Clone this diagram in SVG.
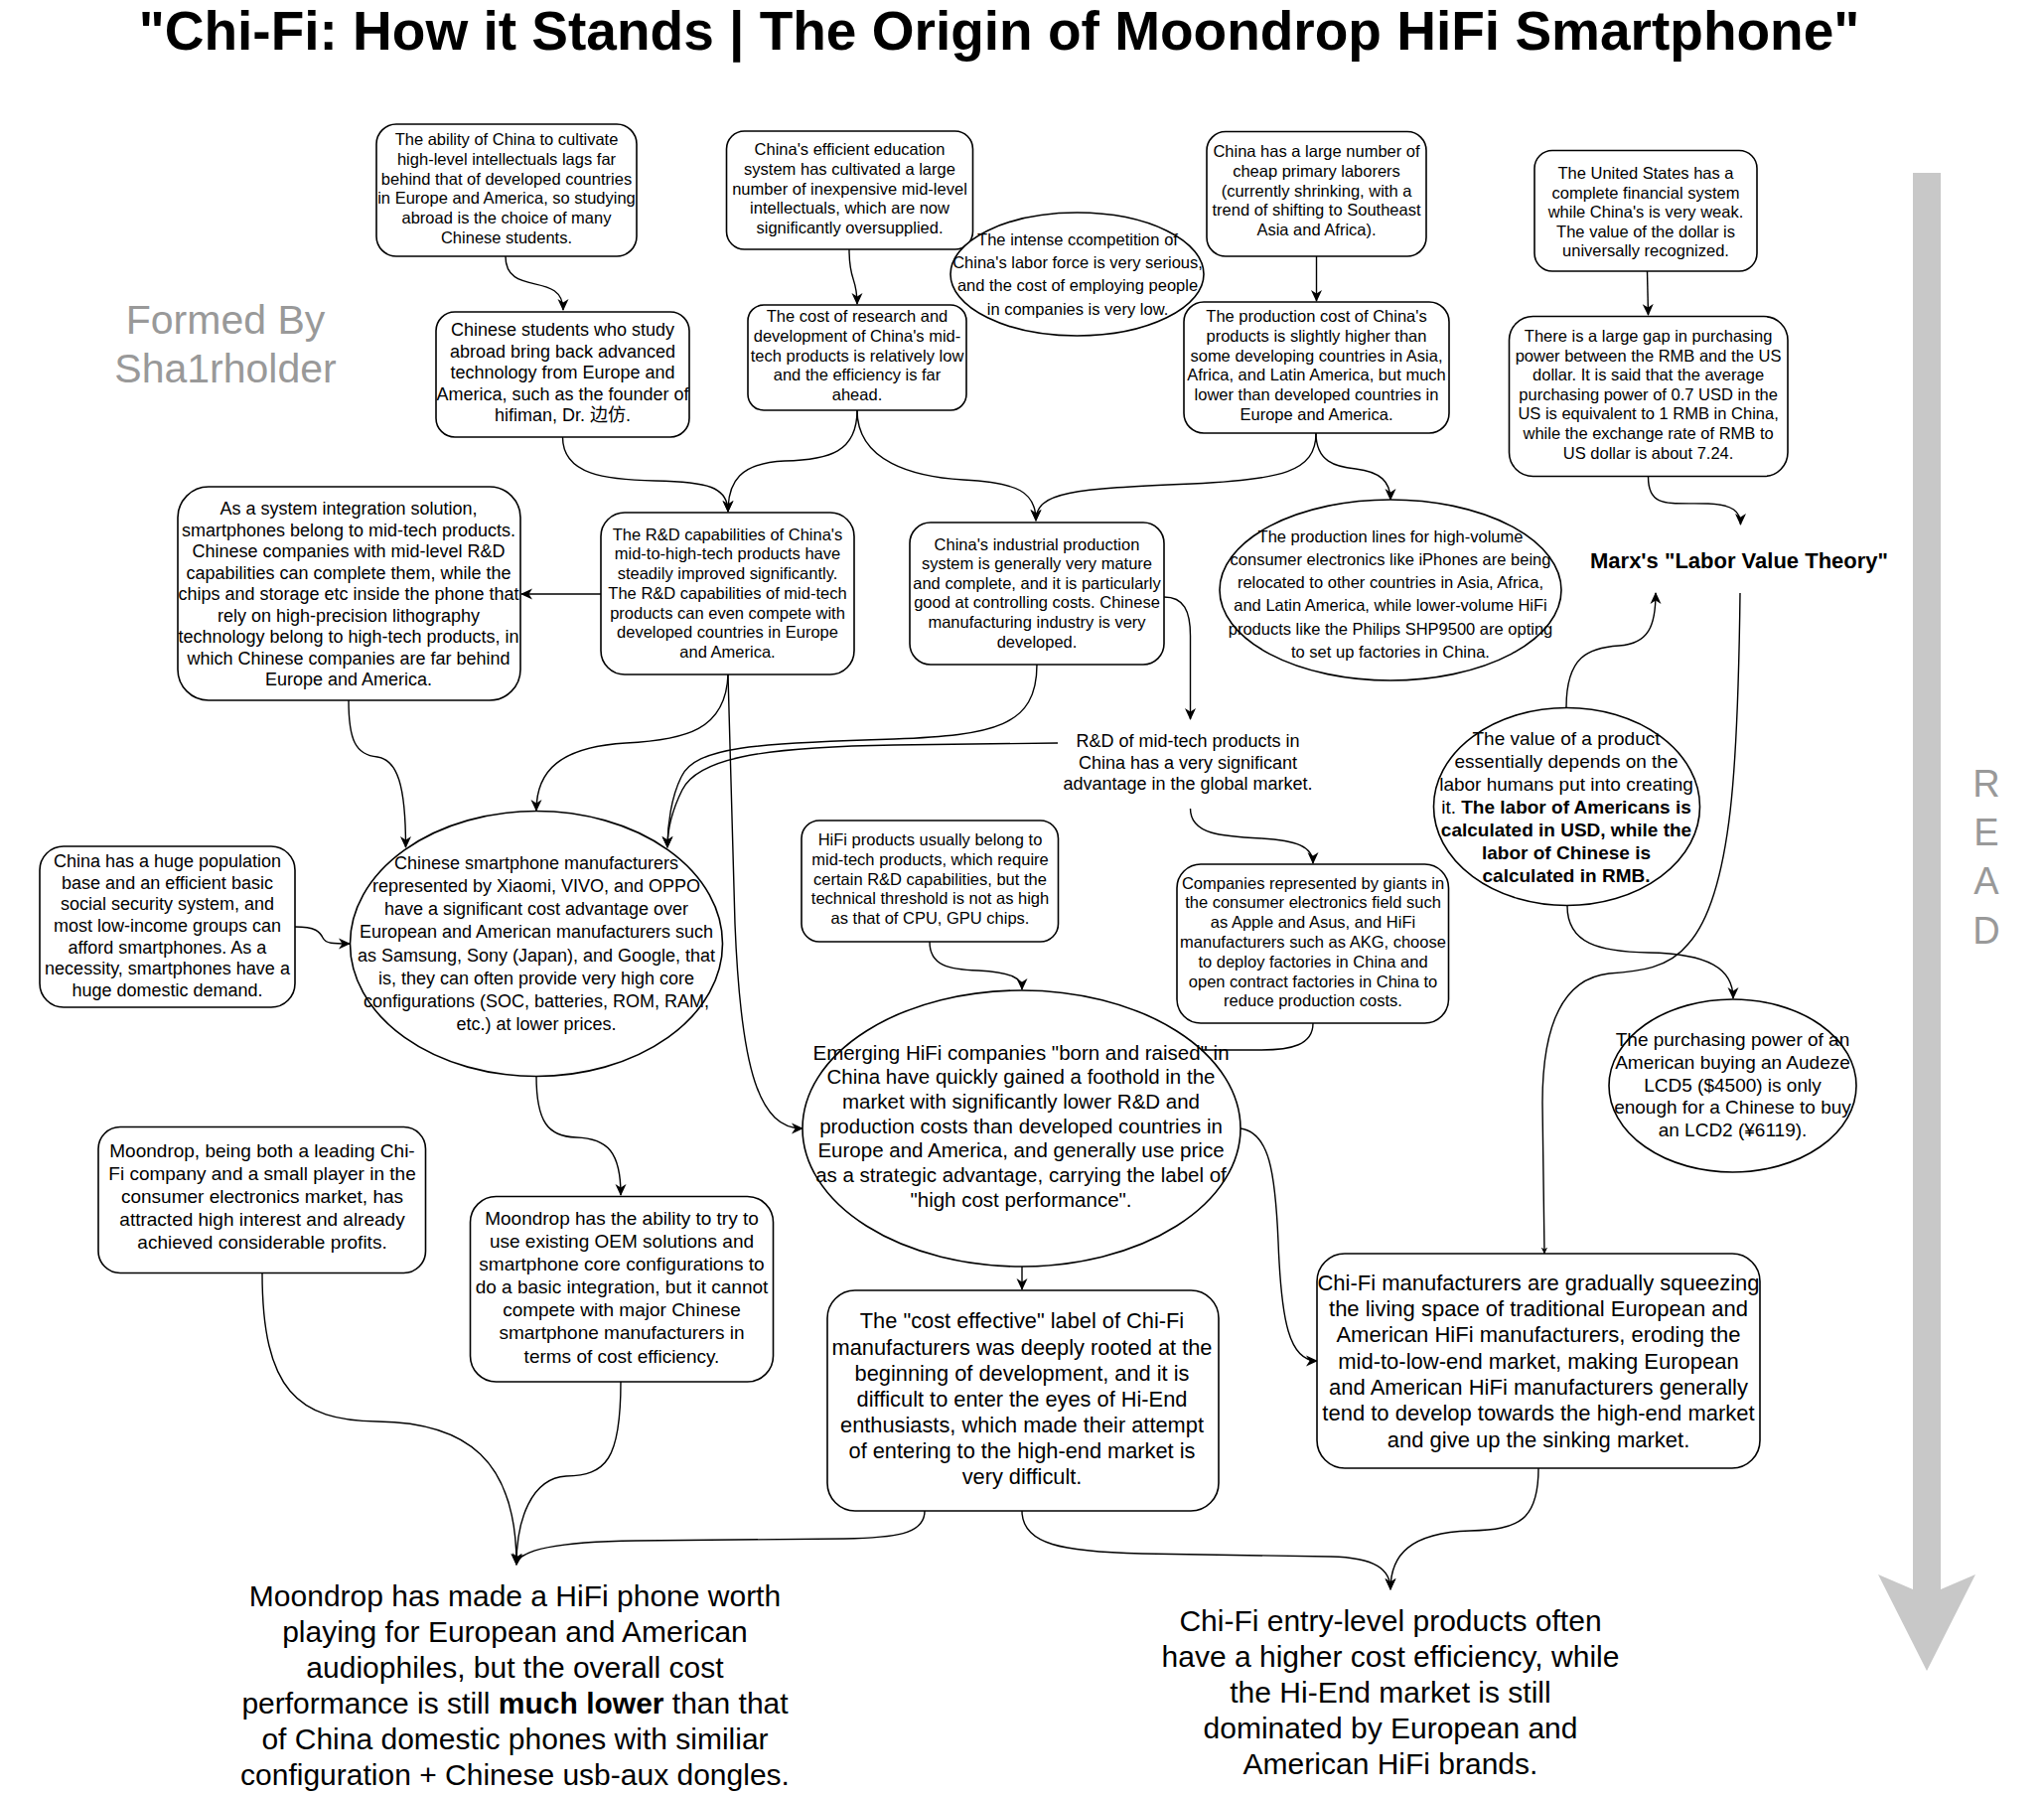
<svg xmlns="http://www.w3.org/2000/svg" width="2058" height="1807" viewBox="0 0 2058 1807">
<style>
.box{fill:#fff;stroke:#000;stroke-width:1.6}
.t{font-family:"Liberation Sans",Arial,"Noto Sans CJK SC",sans-serif;fill:#000;text-anchor:middle}
.s165{font-size:16.5px}
.s18{font-size:18px}
.s19{font-size:19px}
.s205{font-size:20.5px}
.s22{font-size:21.8px}
.s30{font-size:30px}
.c path{fill:none;stroke:#000;stroke-width:1.4}
.gray{fill:#999;font-family:"Liberation Sans",Arial,sans-serif;text-anchor:middle}
</style>
<defs>
<marker id="ah" viewBox="0 0 12 12" refX="11" refY="6" markerWidth="12" markerHeight="12" markerUnits="userSpaceOnUse" orient="auto">
<path d="M0,0.5 L12,6 L0,11.5 L3.5,6 z" fill="#000"/>
</marker>
<marker id="ahs" viewBox="0 0 12 12" refX="11" refY="6" markerWidth="7" markerHeight="7" markerUnits="userSpaceOnUse" orient="auto">
<path d="M0,0.5 L12,6 L0,11.5 L3.5,6 z" fill="#000"/>
</marker>
</defs>
<rect width="2058" height="1807" fill="#fff"/>

<g id="title"><text class="t" x="1006" y="50" style="font-size:55px;font-weight:bold">"Chi-Fi: How it Stands | The Origin of Moondrop HiFi Smartphone"</text></g>

<g id="credit"><text class="gray" x="227" y="336" style="font-size:41px"><tspan x="227" y="336">Formed By</tspan><tspan x="227" y="385">Sha1rholder</tspan></text></g>

<g id="read-arrow">
<polygon points="1926,174 1954,174 1954,1600 1989,1585 1940,1682 1891,1585 1926,1600" fill="#c8c8c8"/>
<text class="gray" style="font-size:38px"><tspan x="2000" y="802">R</tspan><tspan x="2000" y="851">E</tspan><tspan x="2000" y="900">A</tspan><tspan x="2000" y="950">D</tspan></text>
</g>

<g id="connectors" class="c">
<path d="M509,258 C509,300 567,272 567,312" marker-end="url(#ah)"/>
<path d="M855,251 C855,285 863,278 863,306" marker-end="url(#ah)"/>
<path d="M1325.5,258 L1325.5,303" marker-end="url(#ah)"/>
<path d="M1658.5,273 L1659.5,317" marker-end="url(#ah)"/>
<path d="M566.5,440 C566.5,478 610,483 660,484 C712,485 733,490 733,515" marker-end="url(#ah)"/>
<path d="M863,413 C863,455 835,463 790,464 C745,466 733,485 733,515" marker-end="url(#ah)"/>
<path d="M863,413 C863,465 920,480 970,483 C1025,486 1043,495 1043,524" marker-end="url(#ah)"/>
<path d="M1325,436 C1325,475 1290,483 1200,487 C1080,492 1043,495 1043,524" marker-end="url(#ah)"/>
<path d="M1325,436 C1325,465 1345,470 1365,472 C1390,475 1400,485 1400,503" marker-end="url(#ah)"/>
<path d="M1659.5,480 C1659.5,512 1680,506 1720,507 C1745,508 1752.5,515 1752.5,528" marker-end="url(#ah)"/>
<path d="M605,598 L525,598" marker-end="url(#ah)"/>
<path d="M1172,601 C1192,601 1198.5,615 1198.5,640 L1198.5,724" marker-end="url(#ah)"/>
<path d="M1198.5,814 C1198.5,840 1230,842 1270,844 C1305,846 1322,852 1322,869" marker-end="url(#ah)"/>
<path d="M1322,1030 C1322,1052 1300,1057 1270,1057 L1210,1057"/>
<path d="M733,679 C731,735 690,745 630,748 C565,752 540,775 540,816" marker-end="url(#ah)"/>
<path d="M733,679 L740,930 C746,1080 765,1136 808,1136" marker-end="url(#ah)"/>
<path d="M1044,669 C1044,732 1000,740 900,744 C760,748 700,752 686,782 C676,802 672,830 672,853" marker-end="url(#ah)"/>
<path d="M1065,748 L900,750 C760,752 702,765 687,795 C677,815 672,835 672,853" marker-end="url(#ah)"/>
<path d="M351,705 C351,745 358,760 380,762 C400,765 408.5,790 408.5,853" marker-end="url(#ah)"/>
<path d="M297,933 C318,933 322,938 325,944 C328,950 335,950 352,950" marker-end="url(#ah)"/>
<path d="M540,1083 C540,1130 552,1144 580,1145 C612,1146 625,1160 625,1203" marker-end="url(#ah)"/>
<path d="M936,948 C936,972 955,976 985,977 C1018,979 1029,984 1029,996" marker-end="url(#ah)"/>
<path d="M1029,1275 L1029,1298" marker-end="url(#ah)"/>
<path d="M1249,1136 C1278,1140 1284,1180 1287,1250 C1290,1330 1298,1370 1326,1370" marker-end="url(#ah)"/>
<path d="M1752,597 C1750,760 1745,900 1700,950 C1680,975 1650,978 1620,980 C1575,985 1553,1030 1553,1110 L1555,1262" marker-end="url(#ahs)"/>
<path d="M1577,712 C1577,660 1600,652 1630,650 C1660,648 1667,630 1667,597" marker-end="url(#ah)"/>
<path d="M1578,912 C1578,950 1610,958 1660,959 C1720,960 1745,975 1745,1005" marker-end="url(#ah)"/>
<path d="M1029,1521 C1029,1555 1070,1562 1150,1564 L1340,1567 C1385,1568 1400,1580 1400,1600" marker-end="url(#ah)"/>
<path d="M1549,1478 C1549,1530 1530,1540 1480,1541 C1420,1543 1400,1565 1400,1600" marker-end="url(#ah)"/>
<path d="M931,1521 C931,1545 900,1548 850,1549 L640,1551 C560,1552 522,1560 520,1575" marker-end="url(#ah)"/>
<path d="M264,1281 C264,1400 300,1430 380,1431 C470,1432 520,1470 520,1575" marker-end="url(#ah)"/>
<path d="M625,1391 C625,1470 610,1485 570,1486 C535,1488 520,1530 520,1575" marker-end="url(#ah)"/>
</g>

<g id="n1"><rect class="box" x="379" y="125" width="262" height="133" rx="20"/>
<text class="t s165"><tspan x="510" y="146">The ability of China to cultivate</tspan><tspan x="510" y="165.8">high-level intellectuals lags far</tspan><tspan x="510" y="185.6">behind that of developed countries</tspan><tspan x="510" y="205.4">in Europe and America, so studying</tspan><tspan x="510" y="225.2">abroad is the choice of many</tspan><tspan x="510" y="245">Chinese students.</tspan></text></g>

<g id="n2"><rect class="box" x="439" y="314" width="255" height="126" rx="19"/>
<text class="t s18"><tspan x="566.5" y="338">Chinese students who study</tspan><tspan x="566.5" y="359.6">abroad bring back advanced</tspan><tspan x="566.5" y="381.2">technology from Europe and</tspan><tspan x="566.5" y="402.8">America, such as the founder of</tspan><tspan x="566.5" y="424.4">hifiman, Dr. 边仿.</tspan></text></g>

<g id="n3"><rect class="box" x="179" y="490" width="345" height="215" rx="31"/>
<text class="t s18"><tspan x="351" y="518">As a system integration solution,</tspan><tspan x="351" y="539.5">smartphones belong to mid-tech products.</tspan><tspan x="351" y="561">Chinese companies with mid-level R&amp;D</tspan><tspan x="351" y="582.5">capabilities can complete them, while the</tspan><tspan x="351" y="604">chips and storage etc inside the phone that</tspan><tspan x="351" y="625.5">rely on high-precision lithography</tspan><tspan x="351" y="647">technology belong to high-tech products, in</tspan><tspan x="351" y="668.5">which Chinese companies are far behind</tspan><tspan x="351" y="690">Europe and America.</tspan></text></g>

<g id="n4"><rect class="box" x="731.5" y="132" width="248" height="119" rx="18"/>
<text class="t s165"><tspan x="855.5" y="156">China's efficient education</tspan><tspan x="855.5" y="175.8">system has cultivated a large</tspan><tspan x="855.5" y="195.6">number of inexpensive mid-level</tspan><tspan x="855.5" y="215.4">intellectuals, which are now</tspan><tspan x="855.5" y="235.2">significantly oversupplied.</tspan></text></g>

<g id="intense"><ellipse class="box" cx="1084.5" cy="276" rx="127.5" ry="62"/>
<text class="t s165"><tspan x="1085" y="247">The intense ccompetition of</tspan><tspan x="1085" y="270.2">China's labor force is very serious,</tspan><tspan x="1085" y="293.4">and the cost of employing people</tspan><tspan x="1085" y="316.6">in companies is very low.</tspan></text></g>

<g id="n5"><rect class="box" x="753" y="307" width="220" height="106" rx="16"/>
<text class="t s165"><tspan x="863" y="324">The cost of research and</tspan><tspan x="863" y="343.8">development of China's mid-</tspan><tspan x="863" y="363.6">tech products is relatively low</tspan><tspan x="863" y="383.4">and the efficiency is far</tspan><tspan x="863" y="403.2">ahead.</tspan></text></g>

<g id="n6"><rect class="box" x="1215" y="132.5" width="221" height="125.5" rx="19"/>
<text class="t s165"><tspan x="1325.5" y="158">China has a large number of</tspan><tspan x="1325.5" y="177.8">cheap primary laborers</tspan><tspan x="1325.5" y="197.6">(currently shrinking, with a</tspan><tspan x="1325.5" y="217.4">trend of shifting to Southeast</tspan><tspan x="1325.5" y="237.2">Asia and Africa).</tspan></text></g>

<g id="n7"><rect class="box" x="1192" y="304" width="267" height="132" rx="20"/>
<text class="t s165"><tspan x="1325.5" y="324">The production cost of China's</tspan><tspan x="1325.5" y="343.8">products is slightly higher than</tspan><tspan x="1325.5" y="363.6">some developing countries in Asia,</tspan><tspan x="1325.5" y="383.4">Africa, and Latin America, but much</tspan><tspan x="1325.5" y="403.2">lower than developed countries in</tspan><tspan x="1325.5" y="423">Europe and America.</tspan></text></g>

<g id="n8"><rect class="box" x="1545" y="151.5" width="224" height="121.5" rx="18"/>
<text class="t s165"><tspan x="1657" y="180">The United States has a</tspan><tspan x="1657" y="199.5">complete financial system</tspan><tspan x="1657" y="219">while China's is very weak.</tspan><tspan x="1657" y="238.5">The value of the dollar is</tspan><tspan x="1657" y="258">universally recognized.</tspan></text></g>

<g id="n9"><rect class="box" x="1519.5" y="318.5" width="280.5" height="161" rx="24"/>
<text class="t s165"><tspan x="1659.6" y="344">There is a large gap in purchasing</tspan><tspan x="1659.6" y="363.6">power between the RMB and the US</tspan><tspan x="1659.6" y="383.2">dollar. It is said that the average</tspan><tspan x="1659.6" y="402.8">purchasing power of 0.7 USD in the</tspan><tspan x="1659.6" y="422.4">US is equivalent to 1 RMB in China,</tspan><tspan x="1659.6" y="442">while the exchange rate of RMB to</tspan><tspan x="1659.6" y="461.6">US dollar is about 7.24.</tspan></text></g>

<g id="nrd"><rect class="box" x="605" y="516" width="255" height="163" rx="24"/>
<text class="t s165"><tspan x="732.5" y="543.7">The R&amp;D capabilities of China's</tspan><tspan x="732.5" y="563.4">mid-to-high-tech products have</tspan><tspan x="732.5" y="583.1">steadily improved significantly.</tspan><tspan x="732.5" y="602.8">The R&amp;D capabilities of mid-tech</tspan><tspan x="732.5" y="622.5">products can even compete with</tspan><tspan x="732.5" y="642.2">developed countries in Europe</tspan><tspan x="732.5" y="661.9">and America.</tspan></text></g>

<g id="nind"><rect class="box" x="916" y="526" width="256" height="143" rx="21"/>
<text class="t s165"><tspan x="1044" y="553.6">China's industrial production</tspan><tspan x="1044" y="573.2">system is generally very mature</tspan><tspan x="1044" y="592.8">and complete, and it is particularly</tspan><tspan x="1044" y="612.4">good at controlling costs. Chinese</tspan><tspan x="1044" y="632">manufacturing industry is very</tspan><tspan x="1044" y="651.6">developed.</tspan></text></g>

<g id="prod"><ellipse class="box" cx="1400" cy="594" rx="172" ry="91"/>
<text class="t s165"><tspan x="1400" y="545.7">The production lines for high-volume</tspan><tspan x="1400" y="568.9">consumer electronics like iPhones are being</tspan><tspan x="1400" y="592.1">relocated to other countries in Asia, Africa,</tspan><tspan x="1400" y="615.3">and Latin America, while lower-volume HiFi</tspan><tspan x="1400" y="638.5">products like the Philips SHP9500 are opting</tspan><tspan x="1400" y="661.7">to set up factories in China.</tspan></text></g>

<g id="marx"><text class="t" x="1751" y="572" style="font-size:22px;font-weight:bold">Marx's "Labor Value Theory"</text></g>

<g id="value"><ellipse class="box" cx="1577.5" cy="812" rx="134" ry="99.5"/>
<text class="t s19"><tspan x="1577" y="749.5">The value of a product</tspan><tspan x="1577" y="772.6">essentially depends on the</tspan><tspan x="1577" y="795.7">labor humans put into creating</tspan><tspan x="1577" y="818.8">it. <tspan font-weight="bold">The labor of Americans is</tspan></tspan><tspan x="1577" y="841.9" font-weight="bold">calculated in USD, while the</tspan><tspan x="1577" y="865" font-weight="bold">labor of Chinese is</tspan><tspan x="1577" y="888.1" font-weight="bold">calculated in RMB.</tspan></text></g>

<g id="lcd"><ellipse class="box" cx="1744.5" cy="1093" rx="124.5" ry="87"/>
<text class="t s19"><tspan x="1744.5" y="1052.7">The purchasing power of an</tspan><tspan x="1744.5" y="1075.6">American buying an Audeze</tspan><tspan x="1744.5" y="1098.5">LCD5 ($4500) is only</tspan><tspan x="1744.5" y="1121.4">enough for a Chinese to buy</tspan><tspan x="1744.5" y="1144.3">an LCD2 (¥6119).</tspan></text></g>

<g id="rdtext"><text class="t s18"><tspan x="1196" y="752">R&amp;D of mid-tech products in</tspan><tspan x="1196" y="773.6">China has a very significant</tspan><tspan x="1196" y="795.2">advantage in the global market.</tspan></text></g>

<g id="npop"><rect class="box" x="40" y="852" width="257" height="162" rx="24"/>
<text class="t s18"><tspan x="168.5" y="872.8">China has a huge population</tspan><tspan x="168.5" y="894.5">base and an efficient basic</tspan><tspan x="168.5" y="916.2">social security system, and</tspan><tspan x="168.5" y="937.9">most low-income groups can</tspan><tspan x="168.5" y="959.6">afford smartphones. As a</tspan><tspan x="168.5" y="981.3">necessity, smartphones have a</tspan><tspan x="168.5" y="1003">huge domestic demand.</tspan></text></g>

<g id="smart"><ellipse class="box" cx="540" cy="950" rx="187.5" ry="133.5"/>
<text class="t s18"><tspan x="540" y="874.8">Chinese smartphone manufacturers</tspan><tspan x="540" y="898">represented by Xiaomi, VIVO, and OPPO</tspan><tspan x="540" y="921.2">have a significant cost advantage over</tspan><tspan x="540" y="944.4">European and American manufacturers such</tspan><tspan x="540" y="967.6">as Samsung, Sony (Japan), and Google, that</tspan><tspan x="540" y="990.8">is, they can often provide very high core</tspan><tspan x="540" y="1014">configurations (SOC, batteries, ROM, RAM,</tspan><tspan x="540" y="1037.2">etc.) at lower prices.</tspan></text></g>

<g id="nhifi"><rect class="box" x="807" y="826" width="258.5" height="122" rx="18"/>
<text class="t s165"><tspan x="936.5" y="851">HiFi products usually belong to</tspan><tspan x="936.5" y="870.8">mid-tech products, which require</tspan><tspan x="936.5" y="890.6">certain R&amp;D capabilities, but the</tspan><tspan x="936.5" y="910.4">technical threshold is not as high</tspan><tspan x="936.5" y="930.2">as that of CPU, GPU chips.</tspan></text></g>

<g id="ncomp"><rect class="box" x="1185" y="870" width="273.5" height="160" rx="24"/>
<text class="t s165"><tspan x="1322" y="894.6">Companies represented by giants in</tspan><tspan x="1322" y="914.4">the consumer electronics field such</tspan><tspan x="1322" y="934.2">as Apple and Asus, and HiFi</tspan><tspan x="1322" y="954">manufacturers such as AKG, choose</tspan><tspan x="1322" y="973.8">to deploy factories in China and</tspan><tspan x="1322" y="993.6">open contract factories in China to</tspan><tspan x="1322" y="1013.4">reduce production costs.</tspan></text></g>

<g id="emerging"><ellipse class="box" cx="1028.5" cy="1136" rx="220.5" ry="139"/>
<text class="t s205"><tspan x="1028" y="1066.6">Emerging HiFi companies "born and raised" in</tspan><tspan x="1028" y="1091.3">China have quickly gained a foothold in the</tspan><tspan x="1028" y="1116">market with significantly lower R&amp;D and</tspan><tspan x="1028" y="1140.7">production costs than developed countries in</tspan><tspan x="1028" y="1165.4">Europe and America, and generally use price</tspan><tspan x="1028" y="1190.1">as a strategic advantage, carrying the label of</tspan><tspan x="1028" y="1214.8">"high cost performance".</tspan></text></g>

<g id="cost"><rect class="box" x="833" y="1299" width="394" height="222" rx="28"/>
<text class="t s22"><tspan x="1029" y="1337.4">The "cost effective" label of Chi-Fi</tspan><tspan x="1029" y="1363.5">manufacturers was deeply rooted at the</tspan><tspan x="1029" y="1389.6">beginning of development, and it is</tspan><tspan x="1029" y="1415.7">difficult to enter the eyes of Hi-End</tspan><tspan x="1029" y="1441.8">enthusiasts, which made their attempt</tspan><tspan x="1029" y="1467.9">of entering to the high-end market is</tspan><tspan x="1029" y="1494">very difficult.</tspan></text></g>

<g id="squeeze"><rect class="box" x="1326" y="1262" width="446" height="216" rx="28"/>
<text class="t" style="font-size:22px"><tspan x="1549" y="1298.7">Chi-Fi manufacturers are gradually squeezing</tspan><tspan x="1549" y="1325">the living space of traditional European and</tspan><tspan x="1549" y="1351.3">American HiFi manufacturers, eroding the</tspan><tspan x="1549" y="1377.6">mid-to-low-end market, making European</tspan><tspan x="1549" y="1403.9">and American HiFi manufacturers generally</tspan><tspan x="1549" y="1430.2">tend to develop towards the high-end market</tspan><tspan x="1549" y="1456.5">and give up the sinking market.</tspan></text></g>

<g id="moondrop"><rect class="box" x="99" y="1134.5" width="329.5" height="147" rx="22"/>
<text class="t s19"><tspan x="264" y="1165.4">Moondrop, being both a leading Chi-</tspan><tspan x="264" y="1188.4">Fi company and a small player in the</tspan><tspan x="264" y="1211.4">consumer electronics market, has</tspan><tspan x="264" y="1234.4">attracted high interest and already</tspan><tspan x="264" y="1257.4">achieved considerable profits.</tspan></text></g>

<g id="oem"><rect class="box" x="473.5" y="1204.5" width="305" height="186.5" rx="26"/>
<text class="t s19"><tspan x="626" y="1232.9">Moondrop has the ability to try to</tspan><tspan x="626" y="1256">use existing OEM solutions and</tspan><tspan x="626" y="1279.1">smartphone core configurations to</tspan><tspan x="626" y="1302.2">do a basic integration, but it cannot</tspan><tspan x="626" y="1325.3">compete with major Chinese</tspan><tspan x="626" y="1348.4">smartphone manufacturers in</tspan><tspan x="626" y="1371.5">terms of cost efficiency.</tspan></text></g>

<g id="concl-left"><text class="t s30"><tspan x="518.5" y="1616.5">Moondrop has made a HiFi phone worth</tspan><tspan x="518.5" y="1652.5">playing for European and American</tspan><tspan x="518.5" y="1688.5">audiophiles, but the overall cost</tspan><tspan x="518.5" y="1724.5">performance is still <tspan font-weight="bold">much lower</tspan> than that</tspan><tspan x="518.5" y="1760.5">of China domestic phones with similiar</tspan><tspan x="518.5" y="1796.5">configuration + Chinese usb-aux dongles.</tspan></text></g>

<g id="concl-right"><text class="t s30"><tspan x="1400" y="1642">Chi-Fi entry-level products often</tspan><tspan x="1400" y="1678">have a higher cost efficiency, while</tspan><tspan x="1400" y="1714">the Hi-End market is still</tspan><tspan x="1400" y="1750">dominated by European and</tspan><tspan x="1400" y="1786">American HiFi brands.</tspan></text></g>
</svg>
